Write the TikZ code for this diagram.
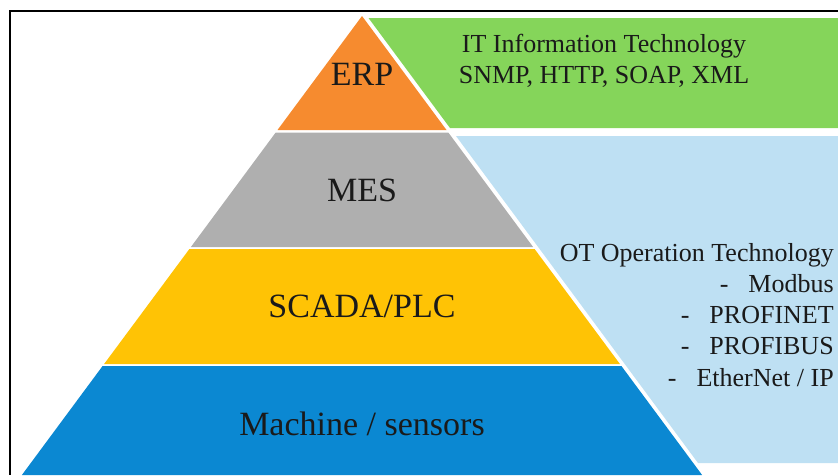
\documentclass[tikz,border=0pt]{standalone}
\usepackage{fontspec}
\setmainfont{Liberation Serif}
\usepackage{tikz}

\definecolor{erpcol}{HTML}{F68B2F}
\definecolor{mescol}{HTML}{AFAFAF}
\definecolor{scadacol}{HTML}{FFC305}
\definecolor{machcol}{HTML}{0B88D2}
\definecolor{itcol}{HTML}{85D55A}
\definecolor{otcol}{HTML}{BEE0F3}
\definecolor{txtcol}{HTML}{1A1A1A}

\begin{document}
\begin{tikzpicture}[x=0.75pt,y=-0.75pt,
	level/.style={text=txtcol, font=\fontsize{25.5}{30}\selectfont, inner sep=0pt},
	info/.style={text=txtcol, font=\fontsize{19.5}{23.3}\selectfont, inner sep=0pt}]
	\useasboundingbox (0,0) rectangle (838,475);
	%\draw[help lines] (0,0) grid[step=50] (838,475);
	\draw[line width=1.3pt] (838,11) -- (10,11) -- (10,475);
	% pyramid
	\fill[erpcol] (362,16) -- (446.5,130) -- (277.5,130) -- cycle;
	\fill[mescol] (275.7,132.5) -- (448.3,132.5) -- (533.1,247) -- (190.9,247) -- cycle;
	\fill[scadacol] (189.4,249) -- (534.6,249) -- (619.9,364) -- (104.1,364) -- cycle;
	\fill[machcol] (102.6,366) -- (621.4,366) -- (702.1,475) -- (21.9,475) -- cycle;
	% IT / OT
	\fill[itcol] (368.5,18) -- (838,18) -- (838,128) -- (450,128) -- cycle;
	\fill[otcol] (456,136) -- (838,136) -- (838,463) -- (698,463) -- cycle;
	\node[level] (erp) at (362,74) {ERP};
	\node[level] (mes) at (362,190) {MES};
	\node[level] (scada) at (362,306) {SCADA/PLC};
	\node[level] (machine) at (362,424) {Machine / sensors};
	\node[info, align=center] (it) at (604,61) {IT Information Technology\\SNMP, HTTP, SOAP, XML};
	\node[info, align=right, anchor=east] (ot) at (834,315) {OT Operation Technology\\
		-\hspace{15pt}Modbus\\ -\hspace{15pt}PROFINET\\ -\hspace{15pt}PROFIBUS\\ -\hspace{15pt}EtherNet / IP};
\end{tikzpicture}
\end{document}
